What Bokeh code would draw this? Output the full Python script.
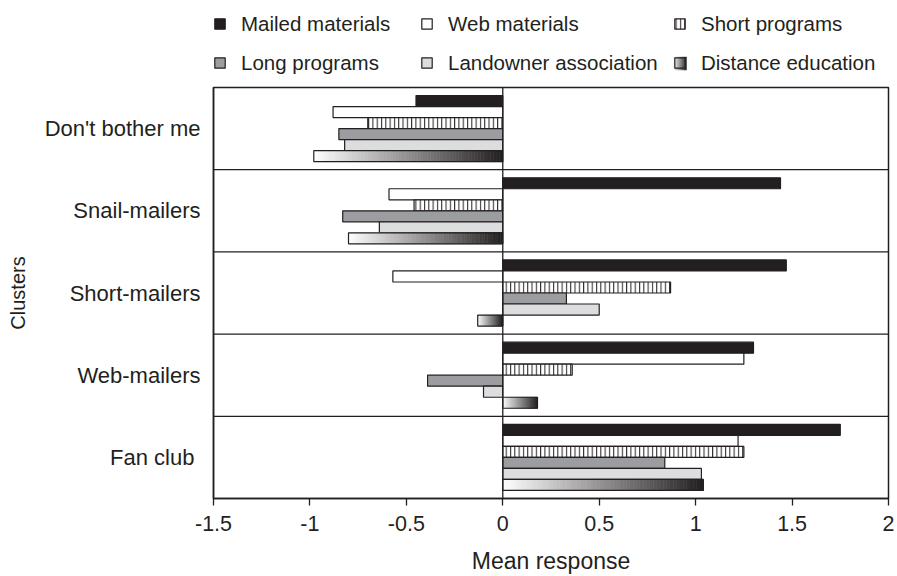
from bokeh.plotting import figure
from bokeh.models import (FactorRange, Range1d, ColumnDataSource, Span, Legend,
                          LegendItem, FixedTicker)
from bokeh.transform import dodge
from bokeh.layouts import column
from bokeh.embed import file_html
from bokeh.resources import INLINE

# ---------------- data ----------------
clusters = ["Don't bother me", "Snail-mailers", "Short-mailers", "Web-mailers", "Fan club "]
series_names = ["Mailed materials", "Web materials", "Short programs",
                "Long programs", "Landowner association", "Distance education"]
mailed = [-0.45, 1.44, 1.47, 1.30, 1.75]
web = [-0.88, -0.59, -0.57, 1.25, 1.22]
short_prog = [-0.70, -0.46, 0.87, 0.36, 1.25]
long_prog = [-0.85, -0.83, 0.33, -0.39, 0.84]
landowner = [-0.82, -0.64, 0.50, -0.10, 1.03]
distance = [-0.98, -0.80, -0.13, 0.18, 1.04]
tick_values = [-1.5, -1, -0.5, 0, 0.5, 1, 1.5, 2]
tick_labels = ["-1.5", "-1", "-0.5", "0", "0.5", "1", "1.5", "2"]

# ---------------- style ----------------
INK = "#231f20"
FONT = "Liberation Sans"
bar_h = 0.134
W = 897
LEG_H = 83          # height of the legend strip above the plot
BORDER_L = 213
BORDER_R = 9
FRAME_W = W - BORDER_L - BORDER_R
styles = [
    dict(fill_color=INK),
    dict(fill_color="white"),
    dict(fill_color="white", hatch_pattern="vertical_line", hatch_color=INK,
         hatch_scale=4.3, hatch_weight=1),
    dict(fill_color="#9c9da0"),
    dict(fill_color="#dcdddf"),
]
GRAD_FROM = (255, 255, 255)
GRAD_TO = (35, 31, 32)


def grad_color(t):
    rgb = tuple(int(round(a + (b - a) * t)) for a, b in zip(GRAD_FROM, GRAD_TO))
    return "#%02x%02x%02x" % rgb


p = figure(width=W, height=576 - LEG_H, output_backend="svg", toolbar_location=None,
           x_range=Range1d(-1.5, 2), y_range=FactorRange(factors=clusters[::-1]),
           min_border_left=BORDER_L, min_border_right=BORDER_R,
           min_border_top=4, min_border_bottom=78)
p.background_fill_color = "white"
p.border_fill_color = "white"
p.outline_line_color = INK
p.outline_line_width = 1.5
p.xgrid.visible = False
p.ygrid.visible = False

series_values = [mailed, web, short_prog, long_prog, landowner]
offsets = [(2.5 - i) * bar_h for i in range(6)]

for i, vals in enumerate(series_values):
    src = ColumnDataSource(dict(cluster=clusters, value=vals))
    p.hbar(y=dodge("cluster", offsets[i], range=p.y_range), left=0, right="value",
           height=bar_h, line_color=INK, line_width=1.2, source=src, **styles[i])

# distance education: gradient (white -> dark) bars built from slices of each bar
N = 60
sl = dict(cluster=[], left=[], right=[], color=[])
for c, v in zip(clusters, distance):
    lo, hi = min(0, v), max(0, v)
    for k in range(N):
        sl["cluster"].append(c)
        sl["left"].append(lo + (hi - lo) * k / N)
        sl["right"].append(lo + (hi - lo) * (k + 1) / N)
        sl["color"].append(grad_color((k + 0.5) / N))
p.hbar(y=dodge("cluster", offsets[5], range=p.y_range), left="left", right="right",
       height=bar_h, fill_color="color", line_color="color", line_width=0.6,
       source=ColumnDataSource(sl))
dsrc = ColumnDataSource(dict(cluster=clusters, value=distance))
p.hbar(y=dodge("cluster", offsets[5], range=p.y_range), left=0, right="value",
       height=bar_h, fill_color=None, line_color=INK, line_width=1.2, source=dsrc)

# separators and zero line
for k in range(1, len(clusters)):
    p.add_layout(Span(location=k, dimension="width", line_color=INK, line_width=1.2))
p.add_layout(Span(location=0, dimension="height", line_color=INK, line_width=1.3))

# axes
xa = p.xaxis[0]
xa.ticker = FixedTicker(ticks=tick_values)
xa.major_label_overrides = {float(v): l for v, l in zip(tick_values, tick_labels)}
xa.minor_tick_line_color = None
xa.major_tick_in = 0
xa.major_tick_out = 7
xa.major_tick_line_color = INK
xa.major_tick_line_width = 1.3
xa.axis_line_color = INK
xa.axis_line_width = 1.5
xa.major_label_text_font = FONT
xa.major_label_text_font_size = "21.5px"
xa.major_label_text_color = INK
xa.major_label_standoff = 10
xa.axis_label = "Mean response"
xa.axis_label_text_font = FONT
xa.axis_label_text_font_size = "23px"
xa.axis_label_text_font_style = "normal"
xa.axis_label_text_color = INK
xa.axis_label_standoff = 14

ya = p.yaxis[0]
ya.major_tick_line_color = None
ya.minor_tick_line_color = None
ya.axis_line_color = INK
ya.axis_line_width = 1.5
ya.major_label_text_font = FONT
ya.major_label_text_font_size = "22px"
ya.major_label_text_color = INK
ya.major_label_standoff = 7
ya.axis_label = "Clusters"
ya.axis_label_text_font = FONT
ya.axis_label_text_font_size = "20px"
ya.axis_label_text_font_style = "normal"
ya.axis_label_text_color = INK
ya.axis_label_standoff = 13

# ---------------- legend strip (frame aligned with the plot frame) ----------------
lf = figure(width=W, height=LEG_H, output_backend="svg", toolbar_location=None,
            x_range=Range1d(0, FRAME_W), y_range=Range1d(0, LEG_H),
            x_axis_type=None, y_axis_type=None,
            min_border_left=BORDER_L, min_border_right=BORDER_R,
            min_border_top=0, min_border_bottom=0)
lf.outline_line_color = None
lf.background_fill_color = "white"
lf.border_fill_color = "white"
lf.grid.visible = False

GLYPH = 13
ITEM_H = 23
SPACING = 15
LEG_X = [0, 207, 460]
LEG_VY = LEG_H - 13.5 - (2 * ITEM_H + SPACING)

# legend proxies (kept outside the visible range of the strip)
leg_renderers = []
for i in range(5):
    leg_renderers.append(lf.hbar(y=[-100], left=[0], right=[1], height=1, line_color=INK,
                                 line_width=1.2, **styles[i]))
# gradient swatch under the distance-education legend icon
gx0 = LEG_X[2]
gy0 = LEG_VY + (ITEM_H - GLYPH) / 2
gs = dict(left=[], right=[], color=[])
for k in range(GLYPH):
    gs["left"].append(gx0 + k)
    gs["right"].append(gx0 + k + 1)
    gs["color"].append(grad_color((k + 0.5) / GLYPH))
lf.quad(left="left", right="right", bottom=gy0, top=gy0 + GLYPH, fill_color="color",
        line_color="color", line_width=0.5, source=ColumnDataSource(gs))
leg_renderers.append(lf.hbar(y=[-100], left=[0], right=[1], height=1, fill_color=None,
                             line_color=INK, line_width=1.2))

columns = [(0, 3), (1, 4), (2, 5)]
for (a, b), vx in zip(columns, LEG_X):
    lg = Legend(items=[LegendItem(label=series_names[a], renderers=[leg_renderers[a]]),
                       LegendItem(label=series_names[b], renderers=[leg_renderers[b]])],
                location=(vx, LEG_VY), orientation="vertical",
                glyph_width=GLYPH, glyph_height=GLYPH, label_standoff=15, spacing=SPACING,
                label_height=ITEM_H, padding=0, margin=0,
                border_line_color=None, background_fill_alpha=0,
                label_text_font=FONT, label_text_font_size="20.5px",
                label_text_color=INK)
    lf.add_layout(lg)

open("out.html", "w").write(file_html(column(lf, p), INLINE))
